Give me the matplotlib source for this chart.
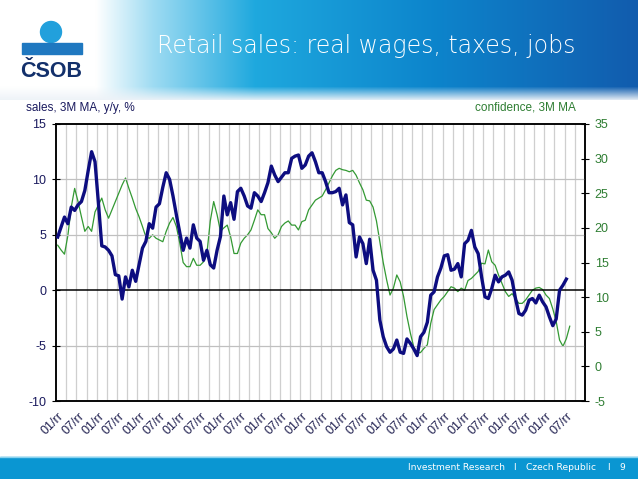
import numpy as np
import matplotlib
matplotlib.use('Agg')
import matplotlib.pyplot as plt
from matplotlib.patches import Circle, Rectangle

# retail sales (3M MA, y/y %) vs consumer confidence (3M MA), monthly
sales = [4.8, 5.7, 6.6, 6.0, 7.5, 7.2, 7.7, 8.0, 9.0, 10.8,
         12.5, 11.6, 7.9, 4.0, 3.9, 3.6, 3.1, 1.4, 1.3, -0.8,
         1.2, 0.3, 1.8, 0.8, 2.3, 3.8, 4.4, 6.0, 5.6, 7.5,
         7.8, 9.3, 10.6, 10.0, 8.5, 6.8, 5.2, 3.6, 4.7, 3.8,
         5.9, 4.7, 4.4, 2.7, 3.6, 2.3, 2.0, 3.6, 4.85, 8.5,
         6.8, 7.9, 6.4, 8.9, 9.2, 8.5, 7.6, 7.4, 8.8, 8.5,
         8.0, 8.8, 9.7, 11.2, 10.4, 9.8, 10.2, 10.6, 10.6, 11.9,
         12.1, 12.2, 11.0, 11.3, 12.1, 12.4, 11.6, 10.6, 10.6, 9.8,
         8.8, 8.8, 8.9, 9.2, 7.7, 8.6, 6.1, 5.9, 3.0, 4.8,
         4.2, 2.4, 4.6, 1.8, 0.9, -2.7, -4.2, -5.1, -5.6, -5.3,
         -4.5, -5.6, -5.7, -4.4, -4.8, -5.3, -5.9, -4.2, -3.8, -2.9,
         -0.45, -0.15, 1.2, 2.0, 3.1, 3.2, 1.8, 1.9, 2.4, 1.2,
         4.2, 4.5, 5.4, 3.9, 3.3, 1.2, -0.6, -0.75, 0.15, 1.35,
         0.75, 1.2, 1.35, 1.65, 0.9, -0.75, -2.1, -2.25, -1.8, -0.9,
         -0.75, -1.15, -0.45, -1.05, -1.5, -2.4, -3.2, -2.6, 0.0, 0.45,
         1.0]

confidence = [17.5, 16.8, 16.2, 18.9, 23.0, 25.7, 23.8, 21.6, 19.5, 20.2,
              19.5, 22.3, 23.3, 24.3, 22.6, 21.4, 22.6, 23.8, 25.0, 26.2,
              27.2, 25.7, 24.3, 22.8, 21.6, 20.2, 18.7, 18.5, 19.0, 18.5,
              18.25, 18.0, 19.5, 20.7, 21.5, 20.2, 17.8, 15.0, 14.4, 14.4,
              15.6, 14.6, 14.6, 15.1, 16.3, 21.0, 23.8, 21.9, 19.5, 20.0,
              20.4, 18.7, 16.3, 16.3, 17.8, 18.5, 19.0, 19.7, 21.1, 22.6,
              21.9, 21.9, 19.9, 19.3, 18.5, 19.0, 20.2, 20.7, 21.0, 20.4,
              20.4, 19.7, 20.9, 21.1, 22.6, 23.3, 24.0, 24.3, 24.6, 25.5,
              26.5, 27.5, 28.3, 28.6, 28.4, 28.3, 28.1, 28.3, 27.6, 26.5,
              25.5, 24.0, 23.9, 23.0, 21.0, 18.0, 15.0, 12.5, 10.3, 11.3,
              13.2, 12.2, 10.1, 7.2, 4.8, 2.8, 1.9, 2.0, 2.6, 3.1,
              6.2, 8.2, 8.9, 9.6, 10.1, 10.8, 11.5, 11.3, 10.8, 11.3,
              11.0, 12.4, 12.7, 13.2, 13.7, 14.9, 14.8, 16.8, 15.1, 14.6,
              13.2, 12.0, 10.8, 10.1, 10.5, 9.8, 9.1, 9.1, 9.6, 10.3,
              11.0, 11.3, 11.4, 11.1, 10.3, 9.8, 8.3, 6.5, 3.8, 2.9,
              4.0, 5.8]

n_months = 156
tick_labels = ['01/rr', '07/rr'] * 13
left_ticks = [-10, -5, 0, 5, 10, 15]
right_ticks = [-5, 0, 5, 10, 15, 20, 25, 30, 35]

navy = '#0d0d80'
green = '#339933'

plt.rcParams['font.family'] = ['Liberation Sans', 'DejaVu Sans']
plt.rcParams['axes.unicode_minus'] = False

fig = plt.figure(figsize=(6.38, 4.79), dpi=100)

# page decoration in pixel coordinates
bg = fig.add_axes([0, 0, 1, 1])
bg.set_xlim(0, 638)
bg.set_ylim(479, 0)
bg.axis('off')

W, H = 638, 100
xs = np.linspace(0, 1, W)
sx = [0, 0.15, 0.24, 0.40, 0.68, 1.0]
r = np.interp(xs, sx, [1, 1, 0.62, 0.12, 0.05, 0.07])
g = np.interp(xs, sx, [1, 1, 0.86, 0.66, 0.52, 0.36])
b = np.interp(xs, sx, [1, 1, 0.95, 0.87, 0.80, 0.68])
row = np.stack([r, g, b], axis=1)
ys = np.arange(H)[:, None, None]
fade = np.clip((ys - 86) / 14.0, 0, 1)
img = row[None, :, :] * (1 - fade) + np.array([0.93, 0.95, 0.97]) * fade
bg.imshow(img, extent=(0, W, H, 0), aspect='auto', zorder=0)

bg.add_patch(Circle((51, 32), 10.5, color='#22a0dc', zorder=2))
bg.add_patch(Rectangle((22, 43), 60, 11, color='#1f78c0', zorder=2))
bg.text(51, 71, 'ČSOB', color='#13306b', fontsize=15.5, fontweight='bold',
        ha='center', va='center', zorder=3)
bg.text(366, 46, 'Retail sales: real wages, taxes, jobs', color='white',
        fontsize=17, family='DejaVu Sans', fontweight='light',
        ha='center', va='center', zorder=3)

bg.add_patch(Rectangle((0, 457), 638, 22, color='#0a96d2', zorder=2))
bg.plot([0, 638], [457, 457], color='#8ad3ef', lw=1, zorder=3)
footer = [(408, 'Investment Research'), (513, 'I'), (526, 'Czech Republic'),
          (607, 'I'), (619, '9')]
for fx, ft in footer:
    bg.text(fx, 468, ft, color='white', fontsize=6.6, family='DejaVu Sans',
            ha='left', va='center', zorder=3)

# chart
ax = fig.add_axes([56 / 638, 1 - 401 / 479, 529 / 638, 277 / 479])
ax2 = ax.twinx()
ax.set_zorder(ax2.get_zorder() + 1)
ax.patch.set_visible(False)

x_conf = np.arange(len(confidence))
x_sales = np.arange(len(sales))

ax2.vlines(np.arange(2.5, n_months - 1, 3), -5, 35, color='#cfcfcf', lw=0.9, zorder=0)
ax2.plot(x_conf, confidence, color=green, lw=0.9, zorder=2)
ax2.set_ylim(-5, 35)
ax2.set_yticks(right_ticks)
ax2.tick_params(axis='y', direction='inout', length=6, colors='black',
                labelcolor='#2e7d32', labelsize=9, pad=4)

for v in [10, 5, -5]:
    ax.axhline(v, color='#c0c0c0', lw=0.9, zorder=1)
ax.axhline(0, color='black', lw=1.1, zorder=2)
ax.plot(x_sales, sales, color=navy, lw=2.4, zorder=3)
ax.set_xlim(-0.5, n_months - 0.5)
ax.set_ylim(-10, 15)
ax.set_yticks(left_ticks)
ax.tick_params(axis='y', direction='inout', length=6, labelcolor='#1a1a5e',
               labelsize=9, pad=4)
ax.set_xticks(np.arange(0, 151, 6))
ax.set_xticklabels(tick_labels, rotation=45, ha='right', rotation_mode='anchor',
                   fontsize=9, color='#1f1f4f')
ax.tick_params(axis='x', length=0, pad=7)
for s in ax.spines.values():
    s.set_linewidth(1.1)
for s in ax2.spines.values():
    s.set_linewidth(1.1)

fig.text(26 / 638, 1 - 108 / 479, 'sales, 3M MA, y/y, %', color='#1a1a5e',
         fontsize=8.5, ha='left', va='center')
fig.text(576 / 638, 1 - 108 / 479, 'confidence, 3M MA', color='#2e7d32',
         fontsize=8.5, ha='right', va='center')

fig.savefig('out.png', dpi=100)
